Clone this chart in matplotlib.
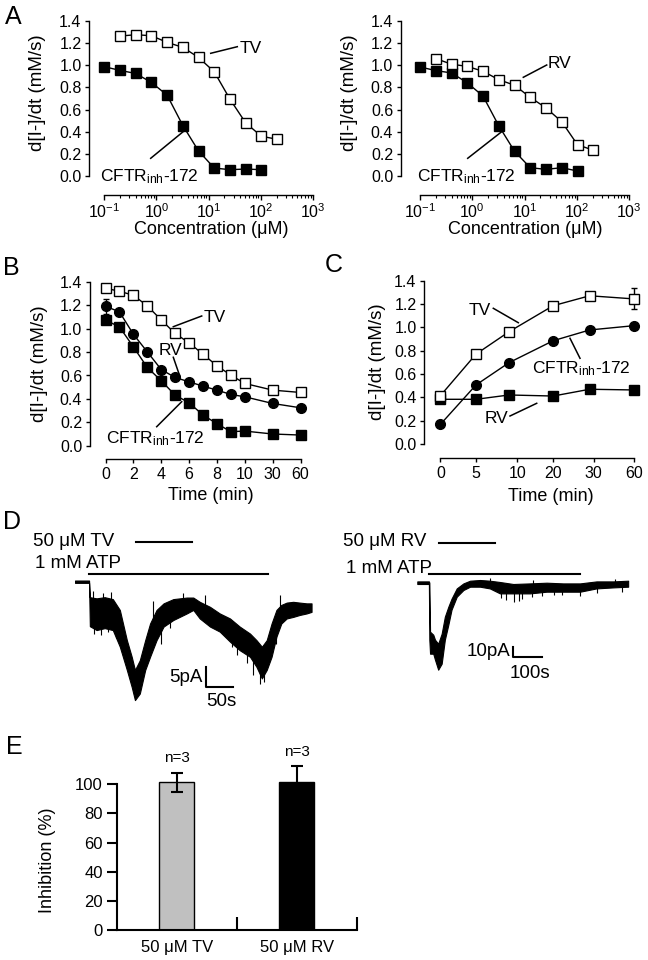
import numpy as np
import matplotlib
matplotlib.use('Agg')
import matplotlib.pyplot as plt
from matplotlib.lines import Line2D
from matplotlib.ticker import FixedLocator, NullFormatter

plt.rcParams['font.family'] = ['Liberation Sans', 'DejaVu Sans']
plt.rcParams['mathtext.fontset'] = 'custom'
plt.rcParams['mathtext.rm'] = 'Liberation Sans'
plt.rcParams['mathtext.it'] = 'Liberation Sans:italic'
plt.rcParams['mathtext.bf'] = 'Liberation Sans:bold'
plt.rcParams['axes.unicode_minus'] = False
plt.rcParams['axes.linewidth'] = 1.0

# ---------------- data ----------------
# Panel A (dose response)
conc_cftr = [0.1, 0.2, 0.4, 0.8, 1.6, 3.2, 6.4, 12.8, 25.6, 51.2, 102.4]
conc_drug = [0.2, 0.4, 0.8, 1.6, 3.2, 6.4, 12.8, 25.6, 51.2, 102.4, 204.8]
a_left_cftr = [0.987, 0.954, 0.926, 0.845, 0.730, 0.456, 0.226, 0.072, 0.057, 0.063, 0.057]
a_left_tv = [1.264, 1.276, 1.267, 1.207, 1.162, 1.071, 0.941, 0.694, 0.480, 0.359, 0.332]
a_right_cftr = [0.985, 0.952, 0.931, 0.842, 0.722, 0.454, 0.224, 0.075, 0.060, 0.075, 0.045]
a_right_rv = [1.06, 1.01, 0.99, 0.946, 0.87, 0.82, 0.71, 0.615, 0.49, 0.282, 0.233]

# Panel B (time course)
b_time = [0, 1, 2, 3, 4, 5, 6, 7, 8, 9, 10, 30, 60]
b_tv = [1.346, 1.32, 1.286, 1.195, 1.075, 0.959, 0.879, 0.782, 0.683, 0.603, 0.532, 0.475, 0.455]
b_rv = [1.192, 1.144, 0.953, 0.802, 0.651, 0.583, 0.546, 0.509, 0.475, 0.438, 0.418, 0.361, 0.324]
b_rv_err = [0.065, 0, 0, 0, 0, 0, 0, 0, 0.02, 0, 0, 0, 0]
b_cftr = [1.073, 1.016, 0.845, 0.669, 0.555, 0.432, 0.367, 0.262, 0.188, 0.120, 0.125, 0.100, 0.091]
b_ticks = [0, 2, 4, 6, 8, 10, 30, 60]

# Panel C (washout)
c_time = [0, 5, 9, 20, 29, 60]
c_tv = [0.414, 0.77, 0.962, 1.185, 1.27, 1.243]
c_tv_err = [0, 0, 0, 0, 0, 0.09]
c_cftr = [0.168, 0.506, 0.697, 0.885, 0.977, 1.014]
c_rv = [0.383, 0.383, 0.42, 0.411, 0.469, 0.463]
c_ticks = [0, 5, 10, 20, 30, 60]

y_ticks = [0.0, 0.2, 0.4, 0.6, 0.8, 1.0, 1.2, 1.4]

# Panel D (current traces: envelope of the noisy record + visible spikes)
d_tv_t = [0, 26, 27.5, 40, 55, 70, 83, 96, 105, 111, 120, 130, 139, 151, 164, 182, 207, 219,
          231, 250, 268, 287, 305, 324, 336, 346, 355, 364, 373, 382, 392, 404, 416, 429, 438]
d_tv_hi = [0.3, 0.3, -4.0, -4.3, -4.0, -4.5, -7.3, -15.1, -19.4, -22.8, -20.3, -15.1, -10.8, -7.3,
           -5.6, -4.5, -4.1, -4.1, -5.2, -6.5, -8.2, -9.5, -11.6, -13.4, -15.1, -16.8, -15.1, -10.8,
           -7.3, -6.0, -5.4, -5.2, -5.4, -5.6, -5.6]
d_tv_lo = [-0.3, -0.3, -11.5, -12.5, -12.0, -12.5, -16.8, -22.8, -27.2, -30.6, -28.9, -22.8, -19.4,
           -15.1, -11.6, -9.9, -8.2, -7.3, -9.5, -11.6, -12.9, -15.5, -17.7, -19.4, -22.0, -25.0,
           -22.8, -19.4, -14.2, -10.8, -9.5, -9.1, -8.6, -8.2, -7.8]
d_tv_spike_t = [33, 35, 48, 52, 62, 66, 75, 145, 160, 175, 200, 240, 290, 300, 318, 330, 342, 350, 372, 380]
d_tv_spike_i = [-2.5, -13.5, -13.8, -3.0, -13.0, -2.6, -14.5, -5.0, -16.0, -12.0, -3.0, -3.5,
                -17.0, -19.0, -21.0, -24.0, -26.5, -26.0, -16.0, -3.5]
d_tv_atp = [26.5, 358]
d_tv_drug = [113, 216]

d_rv_t = [0, 40, 41.5, 44, 55, 61, 72, 84, 95, 107, 118, 136, 159, 182, 216, 250, 285, 331, 388,
          446, 503, 561, 618, 676, 727]
d_rv_hi = [1.3, 1.3, 0, -49, -52, -57, -61, -51, -34, -24, -16, -5.7, -0.7, 2, 2.7, 2, 0.7, -1.3,
           -0.7, 0, -0.7, -0.7, 1.3, 1.3, 2]
d_rv_lo = [-1.3, -1.3, -57, -71, -71, -77, -87, -81, -57, -42, -27, -14, -7.3, -4, -4, -5.7, -10.7,
           -10.7, -10.7, -9, -9, -9, -5.7, -4.7, -4]
d_rv_spike_t = [250, 290, 305, 335, 350, 362, 395, 400, 430, 470, 500, 560, 620, 680, 706]
d_rv_spike_i = [5, -15, -17, -19, -18, -16, -14, 3, -13, -12, -12, -13, -10, 4, -9]
d_rv_atp = [41.5, 561]
d_rv_drug = [76, 268]

# Panel E
e_labels = ['50 \u03bcM TV', '50 \u03bcM RV']
e_values = [101.5, 101.8]
e_err = [6.5, 10.8]
e_n = ['n=3', 'n=3']
e_colors = ['#c0c0c0', 'black']

# ---------------- figure ----------------
W, H = 648, 960
fig = plt.figure(figsize=(6.48, 9.6), dpi=100)


def px_axes(x0, y0, x1, y1):
    return fig.add_axes([x0 / W, 1 - y1 / H, (x1 - x0) / W, (y1 - y0) / H])


def ftext(x, y, s, **kw):
    fig.text(x / W, 1 - y / H, s, **kw)


def fline(x0, y0, x1, y1, lw=1.1):
    fig.add_artist(Line2D([x0 / W, x1 / W], [1 - y0 / H, 1 - y1 / H], color='black', lw=lw,
                          transform=fig.transFigure))


def style(ax, yoff, xoff):
    for s in ['top', 'right']:
        ax.spines[s].set_visible(False)
    ax.spines['left'].set_position(('outward', yoff * 0.72))
    ax.spines['bottom'].set_position(('outward', xoff * 0.72))
    ax.tick_params(which='major', direction='out', length=2.6, width=1, labelsize=11.5, pad=3)
    ax.patch.set_alpha(0)
    ax.set_ylim(0, 1.4)
    ax.spines['left'].set_bounds(0, 1.4)
    ax.yaxis.set_major_locator(FixedLocator(y_ticks))
    ax.set_yticklabels(['%.1f' % v for v in y_ticks])


OPEN = dict(marker='s', ms=7, mfc='white', mec='black', mew=1.0, color='black', lw=1.0, clip_on=False)
FILL = dict(marker='s', ms=7, mfc='black', mec='black', color='black', lw=1.0, clip_on=False)
CIRC = dict(marker='o', ms=7, mfc='black', mec='black', color='black', lw=1.0, clip_on=False)
LAB = 12.5
CFTR = 'CFTR$_{\\mathrm{inh}}$-172'

# Panel A
for (x0, x1, yoff, cfl, drug) in [(104.3, 313, 15, a_left_cftr, a_left_tv),
                                   (420, 629.3, 19, a_right_cftr, a_right_rv)]:
    ax = px_axes(x0, 21, x1, 176)
    ax.set_xscale('log')
    ax.set_xlim(0.1, 1000)
    style(ax, yoff, 19)
    ax.tick_params(axis='x', which='major', length=3.6, pad=1.5)
    ax.tick_params(axis='x', which='minor', length=1.8, width=0.8)
    ax.plot(conc_cftr, cfl, **FILL)
    ax.plot(conc_drug, drug, **OPEN)

ftext(210.8, 230, 'Concentration (\u03bcM)', ha='center', va='center', fontsize=13)
ftext(525, 230, 'Concentration (\u03bcM)', ha='center', va='center', fontsize=13)
ftext(37, 93, 'd[I-]/dt (mM/s)', rotation=90, ha='center', va='center', fontsize=13.5)
ftext(350, 93, 'd[I-]/dt (mM/s)', rotation=90, ha='center', va='center', fontsize=13.5)
ftext(240, 53.3, 'TV', ha='left', va='baseline', fontsize=LAB)
fline(210.7, 53.3, 237.3, 46.7)
ftext(100, 181.7, CFTR, ha='left', va='baseline', fontsize=LAB)
fline(150.7, 158.3, 184, 131)
ftext(548, 68.3, 'RV', ha='left', va='baseline', fontsize=LAB)
fline(523.3, 77.3, 546.7, 65)
ftext(417, 181.7, CFTR, ha='left', va='baseline', fontsize=LAB)
fline(467.7, 158.3, 501.7, 131.7)

# Panel B
bT, bP = [0, 10, 30, 60], [0, 10, 12, 14]
axB = px_axes(105.5, 281.9, 300.5, 445.7)
axB.set_xscale('function', functions=(lambda t: np.interp(t, bT, bP), lambda p: np.interp(p, bP, bT)))
axB.set_xlim(0, 60)
style(axB, 15.5, 13.6)
axB.xaxis.set_major_locator(FixedLocator(b_ticks))
axB.xaxis.set_minor_locator(FixedLocator([]))
axB.set_xticklabels([str(t) for t in b_ticks])
axB.plot(b_time, b_tv, **OPEN)
axB.errorbar(b_time, b_rv, yerr=b_rv_err, capsize=2.5, elinewidth=1, capthick=1, **CIRC)
axB.plot(b_time, b_cftr, **FILL)
ftext(210.8, 495, 'Time (min)', ha='center', va='center', fontsize=13)
ftext(40, 363.7, 'd[I-]/dt (mM/s)', rotation=90, ha='center', va='center', fontsize=13.5)
ftext(203.3, 321.7, 'TV', ha='left', va='baseline', fontsize=LAB)
fline(173.3, 326.7, 201.7, 316)
ftext(158.3, 355, 'RV', ha='left', va='baseline', fontsize=LAB)
fline(173.3, 357.3, 180, 376.7)
ftext(106, 443.3, CFTR, ha='left', va='baseline', fontsize=LAB)
fline(156.7, 426.7, 181.7, 401.7)

# Panel C
cT, cP = [0, 5, 10, 20, 30, 60], [0, 35.6, 76.9, 112.8, 153.3, 193.8]
axC = px_axes(440.4, 280.6, 634.2, 444)
axC.set_xscale('function', functions=(lambda t: np.interp(t, cT, cP), lambda p: np.interp(p, cP, cT)))
axC.set_xlim(0, 60)
style(axC, 16.1, 14.3)
axC.xaxis.set_major_locator(FixedLocator(c_ticks))
axC.xaxis.set_minor_locator(FixedLocator([]))
axC.set_xticklabels([str(t) for t in c_ticks])
axC.errorbar(c_time, c_tv, yerr=c_tv_err, capsize=2.5, elinewidth=1, capthick=1, **OPEN)
axC.plot(c_time, c_cftr, **CIRC)
axC.plot(c_time, c_rv, **FILL)
ftext(551, 496.7, 'Time (min)', ha='center', va='center', fontsize=13)
ftext(377, 362, 'd[I-]/dt (mM/s)', rotation=90, ha='center', va='center', fontsize=13.5)
ftext(468.3, 315, 'TV', ha='left', va='baseline', fontsize=LAB)
fline(493.3, 308.3, 518.3, 322.7)
ftext(531.7, 373.3, CFTR, ha='left', va='baseline', fontsize=LAB)
fline(570, 338.3, 580, 358.3)
ftext(485, 423.3, 'RV', ha='left', va='baseline', fontsize=LAB)
fline(510, 416, 536.7, 403.3)

# Panel D
def trace(ax, t, lo, hi, st, si):
    ax.fill_between(t, lo, hi, color='black', lw=0.8)
    base = np.interp(st, t, np.add(lo, hi) / 2.0)
    ax.vlines(st, base, si, color='black', lw=0.8)


axDL = px_axes(75, 530, 315, 720)
axDL.set_xlim(0, 444.4)
axDL.set_ylim(-35.74, 13.36)
axDL.axis('off')
trace(axDL, d_tv_t, d_tv_lo, d_tv_hi, d_tv_spike_t, d_tv_spike_i)
axDL.plot(d_tv_atp, [2.0, 2.0], color='black', lw=1.5, clip_on=False)
axDL.plot(d_tv_drug, [10.3, 10.3], color='black', lw=1.5, clip_on=False)
sb_pA, sb_s = 5, 50
axDL.plot([242, 242, 242 + sb_s], [-22.1, -22.1 - sb_pA, -22.1 - sb_pA], color='black', lw=1.5)

axDR = px_axes(417.3, 530, 630, 720)
axDR.set_xlim(0, 733.4)
axDR.set_ylim(-137.3, 52.7)
axDR.axis('off')
trace(axDR, d_rv_t, d_rv_lo, d_rv_hi, d_rv_spike_t, d_rv_spike_i)
axDR.plot(d_rv_atp, [8.7, 8.7], color='black', lw=1.5, clip_on=False)
axDR.plot(d_rv_drug, [40, 40], color='black', lw=1.5, clip_on=False)
sb2_pA, sb2_s = 10, 100
axDR.plot([329, 329, 329 + sb2_s], [-64.7, -64.7 - sb2_pA, -64.7 - sb2_pA], color='black', lw=1.5)

DF = 13.5
ftext(33.3, 541.7, '50 \u03bcM TV', ha='left', va='center', fontsize=DF)
ftext(35, 563.3, '1 mM ATP', ha='left', va='center', fontsize=DF)
ftext(343, 541.7, '50 \u03bcM RV', ha='left', va='center', fontsize=DF)
ftext(346, 568.3, '1 mM ATP', ha='left', va='center', fontsize=DF)
ftext(203, 678, '5pA', ha='right', va='center', fontsize=DF)
ftext(221.7, 701.7, '50s', ha='center', va='center', fontsize=DF)
ftext(510, 652, '10pA', ha='right', va='center', fontsize=DF)
ftext(530, 673.3, '100s', ha='center', va='center', fontsize=DF)

# Panel E
axE = px_axes(116.7, 762.4, 356.7, 930)
xs = np.arange(len(e_values)) + 0.5
axE.bar(xs, e_values, width=0.29, color=e_colors, edgecolor='black', lw=1.0)
axE.errorbar(xs, e_values, yerr=e_err, fmt='none', ecolor='black', elinewidth=1.5,
             capsize=4.5, capthick=1.5)
axE.set_xlim(0, 2)
axE.set_ylim(0, 115)
for s in ['top', 'right']:
    axE.spines[s].set_visible(False)
axE.spines['left'].set_bounds(0, 100)
axE.spines['left'].set_linewidth(1.5)
axE.spines['bottom'].set_linewidth(1.5)
axE.patch.set_alpha(0)
axE.set_yticks([0, 20, 40, 60, 80, 100])
axE.tick_params(axis='y', direction='out', length=7, width=1.5, labelsize=12, pad=3)
axE.xaxis.set_major_locator(FixedLocator([1, 2]))
axE.xaxis.set_major_formatter(NullFormatter())
axE.xaxis.set_minor_locator(FixedLocator(list(xs)))
axE.set_xticklabels(e_labels, minor=True)
axE.tick_params(axis='x', which='major', direction='in', length=9.6, width=1.5)
axE.tick_params(axis='x', which='minor', length=0, labelsize=12, pad=7)
for x, v, e, n in zip(xs, e_values, e_err, e_n):
    axE.text(x, v + e + 5, n, ha='center', va='bottom', fontsize=11)
ftext(48, 860.7, 'Inhibition (%)', rotation=90, ha='center', va='center', fontsize=13)

# panel letters
for (x, y, s) in [(13, 17, 'A'), (11, 268, 'B'), (334, 265, 'C'), (12, 522, 'D'), (14, 747, 'E')]:
    ftext(x, y, s, ha='center', va='center', fontsize=18)

fig.savefig('out.png', dpi=100)
